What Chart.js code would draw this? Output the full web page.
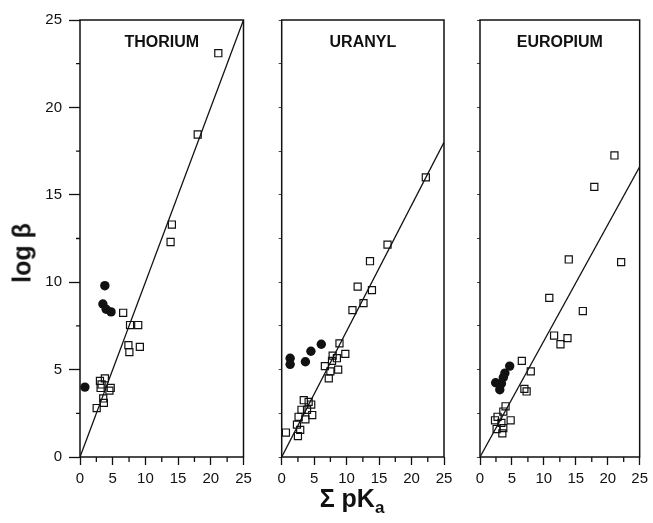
<!DOCTYPE html>
<html lang="en">
<head>
<meta charset="UTF-8">
<title>log β vs Σ pKa</title>
<script src="https://cdn.jsdelivr.net/npm/chart.js"></script>
<style>
    body { margin: 0; background: #fff; font-family: 'Liberation Sans', Arial, Helvetica, sans-serif; }
    #wrap { position: relative; width: 653px; height: 523px; }
    #wrap canvas { position: absolute; left: 0; top: 0; }
    .ytitle { position: absolute; left: 22px; top: 253px; transform: translate(-50%, -50%) rotate(-90deg);
              font-weight: bold; font-size: 25px; white-space: nowrap; color: #111; }
    .xtitle { position: absolute; left: 352px; top: 501px; transform: translate(-50%, -50%);
              font-weight: bold; font-size: 25px; white-space: nowrap; color: #111; }
    .xtitle sub { font-size: 17px; }
</style>
</head>
<body>
<div id="wrap">
    <canvas id="c1" width="653" height="523"></canvas>
    <canvas id="c2" width="653" height="523"></canvas>
    <canvas id="c3" width="653" height="523"></canvas>
    <div class="ytitle">log β</div>
    <div class="xtitle">Σ pK<sub>a</sub></div>
</div>

<script>
    // data
    const panelNames = ['THORIUM', 'URANYL', 'EUROPIUM'];
    const tickValues = [0, 5, 10, 15, 20, 25];
    const minorTickValues = [2.5, 7.5, 12.5, 17.5, 22.5];

    const thoriumOpenX = [21.15, 18.0, 14.05, 13.85, 6.6, 7.65, 8.9, 7.4, 7.55, 9.15, 3.05, 3.8, 3.3, 3.15, 4.7, 4.5, 3.55, 3.65, 2.55];
    const thoriumOpenY = [23.1, 18.45, 13.3, 12.3, 8.25, 7.55, 7.55, 6.4, 6.0, 6.3, 4.35, 4.5, 4.15, 3.95, 3.95, 3.8, 3.35, 3.1, 2.8];
    const thoriumFilledX = [3.8, 3.5, 4.0, 4.75, 0.75];
    const thoriumFilledY = [9.8, 8.75, 8.45, 8.3, 4.0];
    const thoriumFitX = [0, 25];
    const thoriumFitY = [0, 25];

    const uranylOpenX = [22.2, 16.3, 13.6, 11.7, 13.9, 12.6, 10.9, 8.9, 9.8, 7.85, 8.5, 7.75, 6.65, 8.7, 7.5, 7.25, 3.4, 4.15, 4.55, 3.05, 3.9, 4.7, 2.6, 3.65, 2.35, 2.85, 2.5, 0.65];
    const uranylOpenY = [16.0, 12.15, 11.2, 9.75, 9.55, 8.8, 8.4, 6.5, 5.9, 5.8, 5.65, 5.5, 5.2, 5.0, 4.9, 4.5, 3.25, 3.15, 3.0, 2.7, 2.7, 2.4, 2.3, 2.15, 1.85, 1.55, 1.2, 1.4];
    const uranylFilledX = [1.3, 1.3, 3.65, 4.5, 6.1];
    const uranylFilledY = [5.65, 5.3, 5.45, 6.05, 6.45];
    const uranylFitX = [0, 25];
    const uranylFitY = [0, 18.0];

    const europiumOpenX = [21.05, 17.9, 13.9, 22.1, 10.85, 16.1, 11.6, 13.7, 12.6, 6.55, 7.95, 6.95, 7.3, 4.0, 3.65, 2.75, 4.8, 2.35, 3.35, 2.6, 3.65, 3.5];
    const europiumOpenY = [17.25, 15.45, 11.3, 11.15, 9.1, 8.35, 6.95, 6.8, 6.45, 5.5, 4.9, 3.9, 3.75, 2.9, 2.6, 2.3, 2.1, 2.1, 1.95, 1.6, 1.65, 1.35];
    const europiumFilledX = [4.65, 3.9, 3.65, 2.45, 3.35, 3.1];
    const europiumFilledY = [5.2, 4.8, 4.55, 4.25, 4.2, 3.85];
    const europiumFitX = [0, 25];
    const europiumFitY = [0, 16.6];

    const ink = '#111';
    Chart.defaults.font.family = "'Liberation Sans', Arial, Helvetica, sans-serif";

    const pts = (xs, ys) => xs.map((x, i) => ({ x: x, y: ys[i] }));

    // box around the plot, panel name, short minor ticks
    const framePlugin = {
        id: 'frame',
        afterDraw(chart, args, opts) {
            const { ctx, chartArea: a, scales } = chart;
            ctx.save();
            ctx.strokeStyle = ink;
            ctx.lineWidth = 1.5;
            ctx.strokeRect(a.left, a.top, a.right - a.left, a.bottom - a.top);

            ctx.lineWidth = 1.3;
            ctx.beginPath();
            minorTickValues.forEach(v => {
                const px = scales.x.getPixelForValue(v);
                ctx.moveTo(px, a.bottom);
                ctx.lineTo(px, a.bottom + 5);
                if (opts.yMinor) {
                    const py = scales.y.getPixelForValue(v);
                    ctx.moveTo(a.left - 4, py);
                    ctx.lineTo(a.left, py);
                }
            });
            ctx.stroke();

            ctx.fillStyle = ink;
            ctx.font = "bold 16px 'Liberation Sans', Arial, Helvetica, sans-serif";
            ctx.textAlign = 'center';
            ctx.textBaseline = 'middle';
            ctx.fillText(opts.text, (a.left + a.right) / 2, a.top + 23);
            ctx.restore();
        }
    };

    function makePanel(id, name, openX, openY, fillX, fillY, fitX, fitY, areaLeft, areaRight, first) {
        const yWidth = first ? 80 : 10;
        return new Chart(document.getElementById(id), {
            type: 'scatter',
            data: {
                datasets: [
                    { data: pts(fitX, fitY), showLine: true, borderColor: ink, borderWidth: 1.3, pointRadius: 0, order: 3 },
                    { data: pts(openX, openY), pointStyle: 'rect', pointRadius: 5, borderColor: ink, borderWidth: 1.2, backgroundColor: 'rgba(0,0,0,0)', order: 2 },
                    { data: pts(fillX, fillY), pointStyle: 'circle', pointRadius: 4.7, borderWidth: 0, backgroundColor: ink, order: 1 }
                ]
            },
            options: {
                responsive: false,
                animation: false,
                events: [],
                layout: { padding: { left: areaLeft - yWidth, right: 653 - areaRight, top: 20, bottom: 0 } },
                plugins: {
                    legend: { display: false },
                    tooltip: { enabled: false },
                    frame: { text: name, yMinor: first }
                },
                scales: {
                    x: {
                        type: 'linear', min: 0, max: 25,
                        afterFit: s => { s.height = 66; },
                        afterBuildTicks: s => { s.ticks = tickValues.map(v => ({ value: v })); },
                        border: { display: false },
                        grid: { drawOnChartArea: false, tickLength: 8, tickColor: ink, tickWidth: 1.3 },
                        ticks: { color: ink, font: { size: 15 }, padding: 5, maxRotation: 0, autoSkip: false }
                    },
                    y: {
                        type: 'linear', min: 0, max: 25,
                        afterFit: s => { s.width = yWidth; },
                        afterBuildTicks: s => {
                            const vals = first ? tickValues : tickValues.concat(minorTickValues);
                            s.ticks = vals.map(v => ({ value: v }));
                        },
                        border: { display: false },
                        grid: { drawOnChartArea: false, tickLength: first ? 11 : 3, tickColor: ink, tickWidth: first ? 1.3 : 0.8 },
                        ticks: {
                            color: ink, font: { size: 15 }, padding: 7,
                            callback: v => first ? String(v) : ''
                        }
                    }
                }
            },
            plugins: [framePlugin]
        });
    }

    makePanel('c1', panelNames[0], thoriumOpenX, thoriumOpenY, thoriumFilledX, thoriumFilledY, thoriumFitX, thoriumFitY, 80, 243.5, true);
    makePanel('c2', panelNames[1], uranylOpenX, uranylOpenY, uranylFilledX, uranylFilledY, uranylFitX, uranylFitY, 281.7, 444, false);
    makePanel('c3', panelNames[2], europiumOpenX, europiumOpenY, europiumFilledX, europiumFilledY, europiumFitX, europiumFitY, 480, 643, false);
</script>
</body>
</html>
